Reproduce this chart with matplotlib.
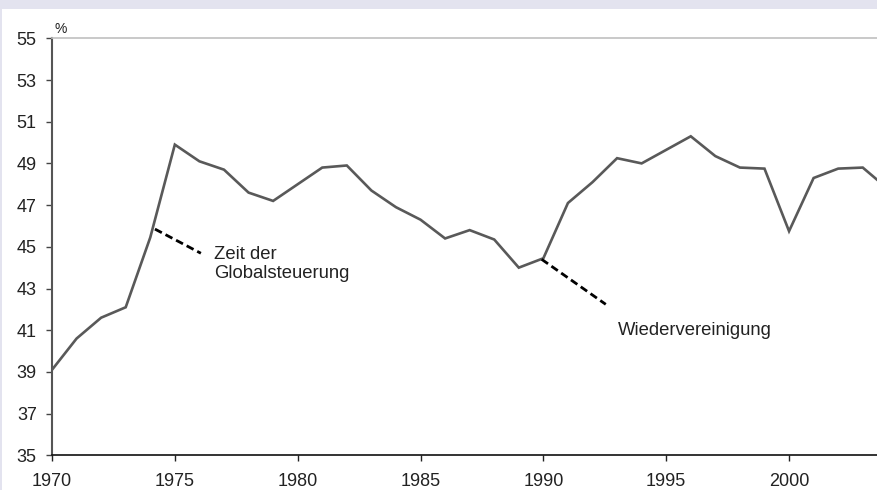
import matplotlib
matplotlib.use("Agg")
import matplotlib.pyplot as plt
from matplotlib.patches import Rectangle

years = list(range(1970, 2005))
values = [39.1, 40.6, 41.6, 42.1, 45.45, 49.9, 49.1, 48.7, 47.6, 47.2,
          48.0, 48.8, 48.9, 47.7, 46.9, 46.3, 45.4, 45.8, 45.35, 44.0,
          44.45, 47.1, 48.1, 49.25, 49.0, 49.65, 50.3, 49.35, 48.8, 48.75,
          45.75, 48.3, 48.75, 48.8, 47.8]
y_ticks = [35, 37, 39, 41, 43, 45, 47, 49, 51, 53, 55]
x_ticks = [1970, 1975, 1980, 1985, 1990, 1995, 2000]
note1 = "Zeit der\nGlobalsteuerung"
note2 = "Wiedervereinigung"

plt.rcParams['font.family'] = ['Liberation Sans', 'DejaVu Sans']

fig = plt.figure(figsize=(8.77, 4.90), dpi=100)
fig.patch.set_facecolor('white')
fig.add_artist(Rectangle((0, 1 - 9/490), 1, 9/490, transform=fig.transFigure,
                         facecolor='#e3e3ef', edgecolor='none', zorder=0))
fig.add_artist(Rectangle((0, 0), 1.5/877, 1, transform=fig.transFigure,
                         facecolor='#e3e3ef', edgecolor='none', zorder=0))

ax = fig.add_axes([52/877, 1 - 455.3/490, 1 - 52/877, (455.3 - 38.3)/490])
ax.plot(years, values, color='#595959', lw=1.9, solid_joinstyle='miter', zorder=3)

ax.set_xlim(1970, 2003.58)
ax.set_ylim(35, 55)
ax.set_yticks(y_ticks)
ax.set_xticks(x_ticks)
ax.tick_params(axis='both', labelsize=13, colors='#222222', length=4, width=1)
ax.tick_params(axis='x', pad=9, color='#222222')
ax.tick_params(axis='y', pad=7, color='#444444')

ax.spines['right'].set_visible(False)
ax.spines['top'].set_color('#c0c0c0')
ax.spines['top'].set_linewidth(1.2)
ax.spines['left'].set_color('#555555')
ax.spines['left'].set_linewidth(1.5)
ax.spines['bottom'].set_color('#111111')
ax.spines['bottom'].set_linewidth(1.2)

ax.text(0.003, 1.006, '%', transform=ax.transAxes, fontsize=10, color='#222222',
        ha='left', va='bottom')

ax.plot([1974.19, 1976.06], [45.85, 44.69], color='black', lw=2.0,
        dashes=(2.8, 1.5), zorder=4)
ax.plot([1989.93, 1992.54], [44.40, 42.24], color='black', lw=2.0,
        dashes=(2.8, 1.5), zorder=4)

ax.text(1976.6, 45.02, note1, fontsize=13.3, color='#222222', ha='left', va='top',
        linespacing=1.15)
ax.text(1993.05, 41.4, note2, fontsize=13.3, color='#222222', ha='left', va='top')

fig.savefig('out.png', dpi=100)
